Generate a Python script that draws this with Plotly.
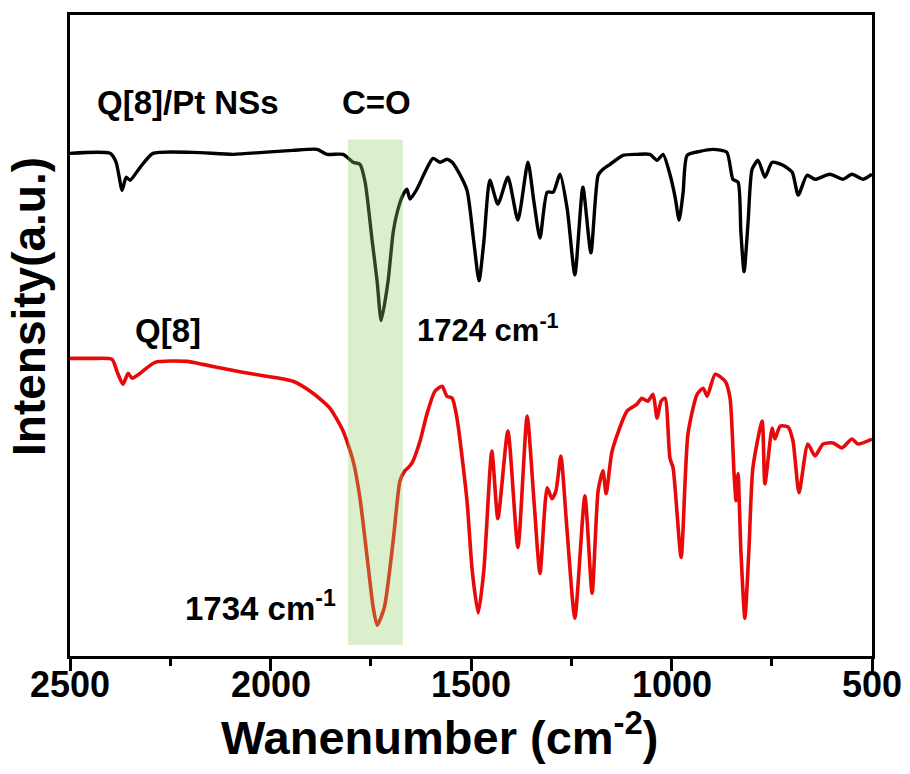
import plotly.graph_objects as go

# FTIR spectra (wavenumber in cm^-1, intensity in arbitrary units, offset traces)
wn_pt = [2500, 2400, 2385, 2370, 2360, 2350, 2325, 2293, 2193, 2093, 2019, 1944, 1884, 1859,
         1819, 1794, 1777, 1764, 1747, 1734, 1724, 1707, 1694, 1684, 1670, 1660, 1652, 1635,
         1615, 1595, 1577, 1560, 1547, 1535, 1510, 1493, 1480, 1468, 1453, 1433, 1408, 1383,
         1358, 1343, 1328, 1310, 1295, 1278, 1260, 1241, 1221, 1201, 1183, 1171, 1153, 1121,
         1086, 1054, 1036, 1021, 1004, 991, 981, 971, 961, 929, 896, 862, 847, 834, 827, 819,
         809, 799, 784, 767, 749, 722, 699, 684, 662, 642, 605, 572, 550, 522, 500]
int_pt = [505, 505, 496, 468, 481, 478, 491, 505, 506, 504, 506, 508, 509, 504,
          504, 496, 494, 476, 419, 376, 337, 376, 426, 446, 463, 469, 459, 469,
          486, 500, 496, 499, 496, 489, 468, 416, 377, 416, 478, 454, 481, 438,
          496, 456, 420, 466, 466, 484, 449, 383, 471, 405, 483, 489, 494, 503,
          504, 504, 498, 504, 484, 461, 438, 466, 503, 507, 509, 506, 479, 476, 426, 386,
          436, 489, 498, 481, 496, 493, 486, 463, 483, 479, 484, 479, 484, 479, 484]

wn_q8 = [2500, 2443, 2395, 2383, 2368, 2355, 2345, 2325, 2288, 2208, 2168, 2108, 2040,
         1944, 1894, 1852, 1819, 1794, 1777, 1759, 1744, 1734, 1716, 1694, 1677, 1665, 1657,
         1647, 1627, 1610, 1590, 1572, 1560, 1547, 1535, 1510, 1497, 1482, 1468, 1448, 1433,
         1408, 1383, 1360, 1343, 1328, 1310, 1298, 1288, 1276, 1261, 1241, 1216, 1198, 1183,
         1171, 1163, 1148, 1111, 1086, 1074, 1059, 1046, 1036, 1026, 1016, 1004, 996, 976,
         959, 936, 921, 911, 891, 866, 854, 844, 839, 834, 827, 817, 807, 797, 774, 767,
         749, 742, 729, 709, 697, 682, 660, 642, 622, 597, 575, 550, 535, 500]
int_q8 = [299, 299, 298, 286, 273, 284, 279, 284, 295, 296, 293, 288, 283,
          276, 264, 249, 226, 196, 159, 99, 49, 31, 49, 116, 176, 186, 189,
          194, 216, 243, 266, 271, 261, 259, 239, 156, 86, 43, 86, 206, 138,
          226, 109, 241, 156, 83, 169, 158, 166, 201, 129, 38, 161, 63, 166,
          186, 163, 206, 246, 253, 259, 256, 263, 239, 256, 259, 199, 189, 99,
          223, 263, 269, 261, 283, 276, 259, 183, 156, 183, 106, 38, 106, 189, 236, 173,
          229, 218, 231, 230, 216, 164, 213, 201, 213, 214, 209, 218, 213, 218]

# C=O stretching band highlight
band_wn = [1807, 1670]
band_int = [11, 519]

x_ticks = [2500, 2000, 1500, 1000, 500]

FONT = "Liberation Sans, Arial, sans-serif"

fig = go.Figure()
fig.add_trace(go.Scatter(x=wn_pt, y=int_pt, mode="lines", name="Q[8]/Pt NSs",
                         line=dict(color="#000000", width=3.4, shape="spline", smoothing=0.6)))
fig.add_trace(go.Scatter(x=wn_q8, y=int_q8, mode="lines", name="Q[8]",
                         line=dict(color="#e80a0a", width=3.6, shape="spline", smoothing=0.6)))

fig.add_shape(type="rect", xref="x", yref="y",
              x0=band_wn[0], x1=band_wn[1], y0=band_int[0], y1=band_int[1],
              fillcolor="rgba(150,205,100,0.33)", line=dict(width=0), layer="above")

def label(text, x, y, size, anchor="left", angle=0, xref="paper"):
    fig.add_annotation(text=text, x=x, y=y, xref=xref, yref="paper",
                       xanchor=anchor, yanchor="middle", showarrow=False, textangle=angle,
                       font=dict(family=FONT, size=size, color="#000000"))

label("<b>Q[8]/Pt NSs</b>", 0.031, 0.864, 33)
label("<b>C=O</b>", 0.382, 0.864, 33, anchor="center")
label("<b>1724 cm<sup>-1</sup></b>", 0.430, 0.512, 31)
label("<b>Q[8]</b>", 0.0786, 0.508, 33)
label("<b>1734 cm<sup>-1</sup></b>", 0.141, 0.078, 33)

# x tick labels, placed close under the tick marks
for v in x_ticks:
    label(f"<b>{v}</b>", v, -0.0445, 36, anchor="center", xref="x")

# axis titles
label("<b>Wanenumber (cm<sup>-2</sup>)</b>", 0.461, -0.122, 47, anchor="center")
label("<b>Intensity(a.u.)</b>", -0.052, 0.545, 46, anchor="center", angle=-90)

fig.update_layout(
    width=910, height=774,
    margin=dict(l=70, r=38, t=12, b=118),
    paper_bgcolor="white", plot_bgcolor="white",
    showlegend=False,
    font=dict(family=FONT, color="#000000"),
)
fig.update_xaxes(
    range=[2500, 500], tickvals=x_ticks, showticklabels=False,
    ticks="outside", ticklen=12, tickwidth=3, tickcolor="black",
    minor=dict(dtick=250, tick0=500, ticks="outside", ticklen=7, tickwidth=3, tickcolor="black"),
    showline=True, linewidth=3, linecolor="black", mirror=True,
    showgrid=False, zeroline=False,
)
fig.update_yaxes(
    range=[0, 644], showticklabels=False, ticks="",
    showline=True, linewidth=3, linecolor="black", mirror=True,
    showgrid=False, zeroline=False,
)

fig.write_html("out.html")
